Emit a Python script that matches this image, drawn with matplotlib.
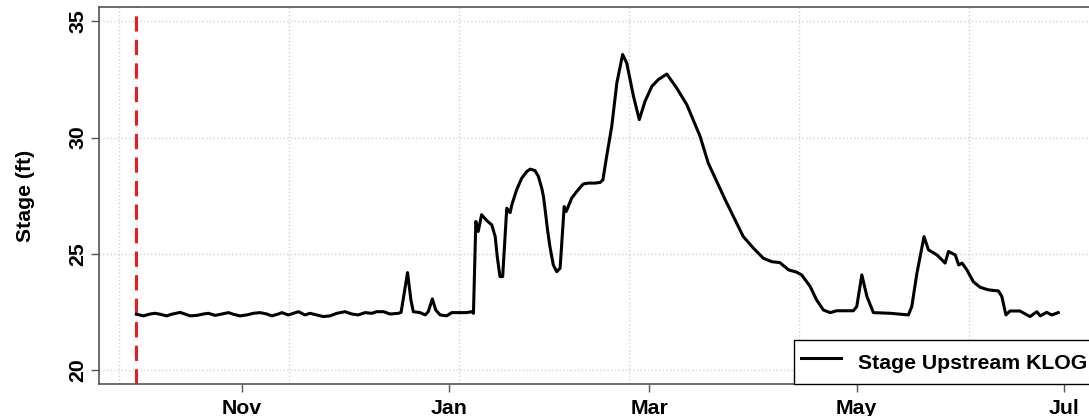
import matplotlib
matplotlib.use('Agg')
import matplotlib.pyplot as plt
import pandas as pd

# water year start (red dashed line) and readings, days counted from it
start = '2018-10-01'
days = [0, 2.1, 4.0, 5.5, 7.0, 8.9, 10.4, 12.9, 14.3, 15.8, 17.8, 19.7, 21.2,
        23.2, 25.1, 27.1, 28.5, 30.5, 32.5, 34.4, 36.4, 38.4, 39.8, 41.8, 42.8,
        44.7, 47.7, 49.6, 51.1, 53.1, 55.0, 57.0, 59.0, 61.4, 63.4, 65.3, 67.3,
        69.3, 70.7, 72.7, 74.7, 77.1, 77.9, 79.8, 80.8, 81.5, 83.5, 85.0, 85.9,
        87.1, 88.1, 89.4, 91.3, 92.8, 94.8, 97.2, 98.7, 99.2,
        99.9, 100.6, 101.6, 103.1, 104.6, 105.6, 106.2, 107.0, 107.8, 109.0,
        110.0, 110.5, 111.9, 113.4, 114.9, 115.9, 117.3, 118.3, 119.3, 119.8,
        120.3, 121.0, 121.7, 122.7, 123.7, 124.7, 125.2, 125.9, 126.5, 127.1,
        128.1, 129.6, 131.5, 133.0, 135.0, 136.5, 137.3, 138.4, 139.9, 141.4,
        143.1, 144.3, 146.3, 148.0, 149.7, 151.7, 153.6, 156.1, 159.0, 162.0,
        165.9, 168.3, 170.8, 173.3, 175.7, 178.6, 181.6, 184.5, 187.0, 189.4,
        191.9, 194.3, 195.8, 198.3, 200.2, 202.2, 204.2, 206.1, 211.0, 212.0,
        213.5, 215.0, 216.9, 222.0, 227.2, 228.2, 229.7, 231.8, 233.1, 235.6,
        238.0, 239.0, 241.0, 242.0, 243.0, 244.4, 246.3, 248.3, 250.7, 253.7,
        254.7, 255.9, 257.1, 260.0, 263.0, 265.0, 266.0, 267.9, 269.4, 271.3]
stage = [22.40, 22.33, 22.41, 22.44, 22.40, 22.33, 22.40, 22.48, 22.41, 22.33,
         22.35, 22.41, 22.44, 22.35, 22.41, 22.47, 22.40, 22.33, 22.37, 22.44,
         22.47, 22.41, 22.33, 22.41, 22.47, 22.37, 22.51, 22.37, 22.44, 22.37,
         22.30, 22.33, 22.44, 22.51, 22.41, 22.37, 22.47, 22.44, 22.51, 22.51,
         22.41, 22.44, 22.48, 24.19, 23.01, 22.51, 22.47, 22.37, 22.51, 23.06,
         22.58, 22.37, 22.33, 22.47, 22.47, 22.47, 22.51, 22.44,
         26.39, 25.96, 26.68, 26.43, 26.24, 25.74, 24.88, 24.02, 24.02, 26.96,
         26.77, 27.11, 27.75, 28.25, 28.54, 28.64, 28.58, 28.33, 27.82, 27.46,
         26.89, 26.03, 25.31, 24.52, 24.23, 24.38, 25.46, 27.03, 26.82, 27.03,
         27.39, 27.68, 28.00, 28.04, 28.04, 28.07, 28.18, 29.19, 30.48, 32.35,
         33.57, 33.21, 31.77, 30.77, 31.56, 32.20, 32.49, 32.73, 32.13, 31.41,
         30.05, 28.90, 28.11, 27.32, 26.60, 25.74, 25.24, 24.81, 24.66, 24.62,
         24.31, 24.21, 24.09, 23.59, 23.01, 22.58, 22.47, 22.55, 22.55, 22.73,
         24.09, 23.16, 22.47, 22.44, 22.37, 22.73, 24.16, 25.74, 25.17, 24.95,
         24.60, 25.10, 24.95, 24.52, 24.60, 24.31, 23.80, 23.56, 23.45, 23.40,
         23.16, 22.37, 22.54, 22.54, 22.30, 22.51, 22.33, 22.48, 22.37, 22.47]

tick_dates = ['2018-11-01', '2019-01-01', '2019-03-01', '2019-05-01', '2019-07-01']
tick_labels = ['Nov', 'Jan', 'Mar', 'May', 'Jul']
grid_dates = ['2018-09-26', '2018-11-15', '2019-01-04', '2019-02-23',
              '2019-04-14', '2019-06-03']
y_ticks = [20, 25, 30, 35]

dates = pd.Timestamp(start) + pd.to_timedelta(days, unit='D')

plt.rcParams['font.family'] = 'Liberation Sans'
plt.rcParams['font.weight'] = 'bold'
fs = 15.3

fig = plt.figure(figsize=(10.89, 4.16), dpi=100)
# the axes runs past the right edge, as in the cropped original
ax = fig.add_axes([99/1089, 32/416, 995.6/1089, 376.7/416])

gridkw = dict(color='#D3D3D3', linestyle=':', linewidth=1.0)
ax.set_axisbelow(True)
ax.set_xticks(pd.to_datetime(grid_dates), minor=True)
ax.grid(which='minor', axis='x', **gridkw)
ax.grid(which='major', axis='y', **gridkw)

ax.axvline(pd.Timestamp(start), color='#EE1C1C', linewidth=2.2, dashes=(5, 2.7))
ax.plot(dates, stage, color='black', linewidth=2.2, solid_joinstyle='round',
        label='Stage Upstream KLOG')

ax.set_xlim(pd.Timestamp('2018-09-20'), pd.Timestamp('2019-07-10'))
ax.set_ylim(19.4, 35.6)
ax.set_xticks(pd.to_datetime(tick_dates))
ax.set_xticklabels(tick_labels)
ax.set_yticks(y_ticks)
for t in ax.get_yticklabels():
    t.set_rotation(90)
    t.set_va('center')

ax.tick_params(which='major', length=5.5, width=1.0, color='#555555',
               labelsize=fs)
ax.tick_params(axis='x', pad=5.5)
ax.tick_params(axis='y', pad=3.0)
ax.tick_params(which='minor', length=0)
for s in ax.spines.values():
    s.set_color('#555555')
    s.set_linewidth(1.2)

ax.set_ylabel('Stage (ft)', fontsize=fs, fontweight='bold')
ax.yaxis.set_label_coords(-0.0638, 0.5)

leg = ax.legend(loc='lower right', borderaxespad=0, fancybox=False,
                edgecolor='black', framealpha=1, handlelength=1.9,
                handletextpad=0.8, borderpad=0.33, handleheight=1.77,
                prop=dict(weight='bold', size=fs))
leg.get_frame().set_linewidth(1.0)

fig.savefig('out.png', dpi=100)
